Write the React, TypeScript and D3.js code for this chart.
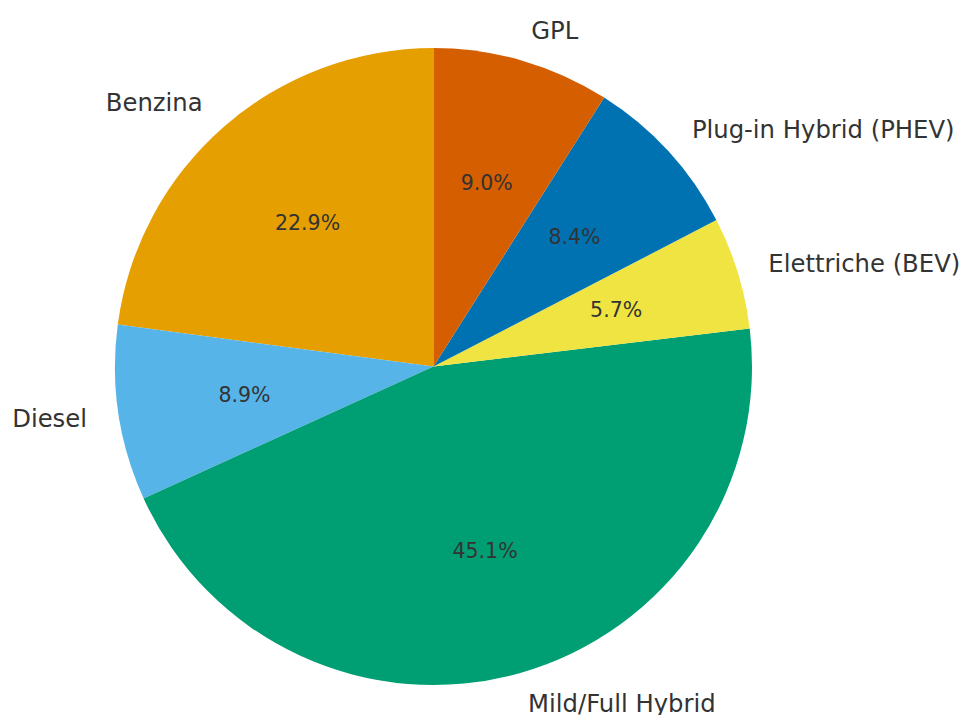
import React from "react";
import * as d3 from "d3";

const categories = ["Benzina", "Diesel", "Mild/Full Hybrid", "Elettriche (BEV)", "Plug-in Hybrid (PHEV)", "GPL"];
const shares = [22.9, 8.9, 45.1, 5.7, 8.4, 9.0];
const colors = ["#E69F00", "#56B4E9", "#009E73", "#F0E442", "#0072B2", "#D55E00"];

const W = 963;
const H = 715;
const CX = 433.5;
const CY = 366.5;
const R = 318.5;

export default function App() {
  const data = categories.map((c, i) => ({ name: c, value: shares[i], color: colors[i] }));
  const pie = d3
    .pie<any>()
    .value((d) => d.value)
    .sort(null)
    .startAngle(0)
    .endAngle(-2 * Math.PI);
  const arcs = pie(data);
  const arcGen = d3.arc<any>().innerRadius(0).outerRadius(R);
  const pt = (a: number, r: number) => [CX + r * Math.sin(a), CY - r * Math.cos(a)];

  return (
    <svg width={W} height={H} style={{ position: "absolute", left: 0, top: 0, background: "#fff" }}>
      <g>
        {arcs.map((a, i) => (
          <path key={i} d={arcGen(a) as string} transform={`translate(${CX},${CY})`} fill={a.data.color} />
        ))}
      </g>
      <g fontFamily="DejaVu Sans" fill="#333333">
        {arcs.map((a, i) => {
          const mid = (a.startAngle + a.endAngle) / 2;
          const [lx, ly] = pt(mid, R * 1.1);
          const [px, py] = pt(mid, R * 0.6);
          return (
            <g key={i}>
              <text
                x={lx}
                y={ly}
                fontSize={24.3}
                textAnchor={lx > CX ? "start" : "end"}
                dominantBaseline="central"
              >
                {a.data.name}
              </text>
              <text x={px} y={py} fontSize={20.5} textAnchor="middle" dominantBaseline="central">
                {a.data.value.toFixed(1) + "%"}
              </text>
            </g>
          );
        })}
      </g>
    </svg>
  );
}
